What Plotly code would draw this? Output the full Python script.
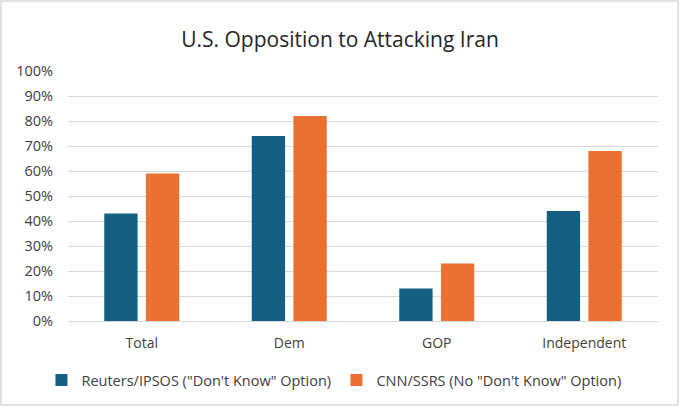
import plotly.graph_objects as go

categories = ["Total", "Dem", "GOP", "Independent"]
reuters_values = [0.43, 0.74, 0.13, 0.44]
cnn_values = [0.59, 0.82, 0.23, 0.68]
series_names = ['Reuters/IPSOS ("Don\'t Know" Option)', 'CNN/SSRS (No "Don\'t Know" Option)']
y_ticks = [i / 10 for i in range(11)]

W, H = 680, 409
L, R, T, B = 68, 22, 71, 88

fig = go.Figure()
fig.add_trace(go.Bar(x=categories, y=reuters_values, name=series_names[0],
                     marker=dict(color="#156082", line=dict(width=0))))
fig.add_trace(go.Bar(x=categories, y=cnn_values, name=series_names[1],
                     marker=dict(color="#E97132", line=dict(width=0))))

font_family = "'Open Sans', Lato, sans-serif"
fig.update_layout(
    width=W, height=H,
    margin=dict(l=L, r=R, t=T, b=B, pad=0, autoexpand=False),
    paper_bgcolor="white", plot_bgcolor="white",
    barmode="group", bargap=0.435, bargroupgap=0.2,
    title=dict(text="U.S. Opposition to Attacking Iran", x=0.5, xanchor="center",
               y=1 - 40 / H, yanchor="middle",
               font=dict(family=font_family, size=21, color="#262626")),
    font=dict(family=font_family, color="#404040"),
    showlegend=True,
    legend=dict(orientation="h", x=0.455, xanchor="center", y=-0.236, yanchor="middle",
                font=dict(size=14.5, color="#404040"), traceorder="normal",
                bgcolor="rgba(0,0,0,0)",
                itemwidth=30, entrywidth=250, entrywidthmode="pixels"),
    xaxis=dict(showgrid=False, showline=False, ticks="", tickfont=dict(size=14, color="#404040"),
               ticklabelstandoff=12),
    yaxis=dict(range=[0, 1], tickvals=y_ticks, tickformat=".0%", showgrid=True,
               gridcolor="#d9d9d9", gridwidth=1.3, zeroline=True, zerolinecolor="#d9d9d9",
               zerolinewidth=1.3, showline=False, ticks="", ticklabelstandoff=14,
               tickfont=dict(size=14.5, color="#404040")),
)

# light outer frame around the chart, as in the reference
pw = W - L - R
ph = H - T - B
fig.add_shape(type="rect", xref="paper", yref="paper",
              x0=(1 - L) / pw, x1=(W - 2 - L) / pw,
              y0=-(H - 4 - T - ph) / ph, y1=(H - 1 - B) / ph,
              line=dict(color="#d9d9d9", width=1.5), fillcolor="rgba(0,0,0,0)", layer="below")

fig.write_html("out.html", config={"displayModeBar": False},
               post_script="document.body.style.margin='0';document.body.style.overflow='hidden';")
